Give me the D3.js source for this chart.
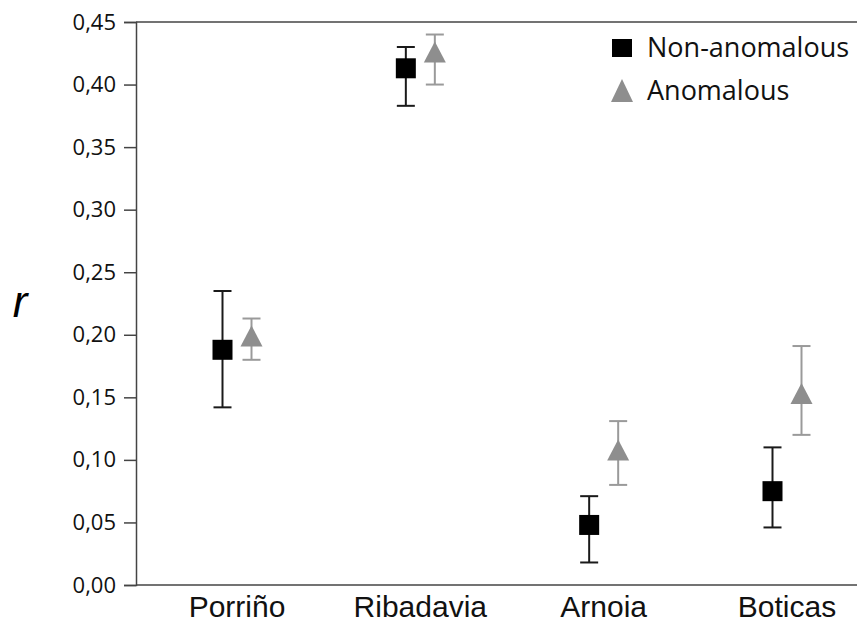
<!DOCTYPE html>
<html>
<head>
<meta charset="utf-8">
<script src="https://cdn.jsdelivr.net/npm/d3@7"></script>
<style>
body { margin: 0; background: #fff; }
</style>
</head>
<body>
<script>
var sites = ["Porriño", "Ribadavia", "Arnoia", "Boticas"];
var seriesNames = ["Non-anomalous", "Anomalous"];

// point estimate and interval ends
var nonAnomalous = [0.188, 0.413, 0.048, 0.075];
var nonAnomalousLow = [0.142, 0.383, 0.018, 0.046];
var nonAnomalousHigh = [0.235, 0.430, 0.071, 0.110];

var anomalous = [0.197, 0.424, 0.106, 0.151];
var anomalousLow = [0.180, 0.400, 0.080, 0.120];
var anomalousHigh = [0.213, 0.440, 0.131, 0.191];

var yTicks = [0, 0.05, 0.10, 0.15, 0.20, 0.25, 0.30, 0.35, 0.40, 0.45];

var width = 857, height = 626;
var plotLeft = 136, plotTop = 22, plotBottom = 585;

var svg = d3.select("body")
    .append("svg")
    .attr("width", width)
    .attr("height", height);

var y = d3.scaleLinear()
    .domain([0, 0.45])
    .range([plotBottom, plotTop]);

var x = d3.scalePoint()
    .domain(sites)
    .range([237, 787]);

var offset = d3.scalePoint()
    .domain(seriesNames)
    .range([-14.5, 14.5]);

var colors = { "Non-anomalous": "#000", "Anomalous": "#8e8e8e" };
var barColors = { "Non-anomalous": "#1a1a1a", "Anomalous": "#9a9a9a" };

var series = [
    { name: "Non-anomalous", mid: nonAnomalous, lo: nonAnomalousLow, hi: nonAnomalousHigh },
    { name: "Anomalous", mid: anomalous, lo: anomalousLow, hi: anomalousHigh }
];

// frame: top and bottom lines run off the right edge
svg.append("line")
    .attr("x1", plotLeft).attr("x2", width)
    .attr("y1", plotTop).attr("y2", plotTop)
    .attr("stroke", "#444").attr("stroke-width", 1.5);
svg.append("line")
    .attr("x1", plotLeft).attr("x2", width)
    .attr("y1", plotBottom).attr("y2", plotBottom)
    .attr("stroke", "#444").attr("stroke-width", 1.5);

var yAxis = svg.append("g")
    .attr("transform", "translate(" + plotLeft + ",0)")
    .call(d3.axisLeft(y)
        .tickValues(yTicks)
        .tickSize(12)
        .tickPadding(8)
        .tickFormat(function (d) { return d3.format(".2f")(d).replace(".", ","); }));

yAxis.select(".domain").attr("stroke", "#444").attr("stroke-width", 1.5);
yAxis.selectAll(".tick line").attr("stroke", "#444").attr("stroke-width", 1.5);
yAxis.selectAll(".tick text")
    .attr("fill", "#111")
    .style("font-family", "'Open Sans', sans-serif")
    .style("font-size", "22px");

// category labels
svg.append("g")
    .selectAll("text")
    .data(sites)
    .enter()
    .append("text")
    .attr("x", function (d) { return x(d); })
    .attr("y", 617)
    .attr("text-anchor", "middle")
    .attr("fill", "#111")
    .style("font-family", "'Liberation Sans', Arial, sans-serif")
    .style("font-size", "30px")
    .text(function (d) { return d; });

// axis title
svg.append("text")
    .attr("x", 20)
    .attr("y", 317)
    .attr("text-anchor", "middle")
    .style("font-family", "'Liberation Sans', Arial, sans-serif")
    .style("font-style", "italic")
    .style("font-size", "44px")
    .text("r");

var cap = 9;

series.forEach(function (s) {
    var g = svg.append("g");
    var cx = function (d, i) { return x(sites[i]) + offset(s.name); };

    g.selectAll("line.stem")
        .data(s.mid)
        .enter()
        .append("line")
        .attr("x1", cx).attr("x2", cx)
        .attr("y1", function (d, i) { return y(s.lo[i]); })
        .attr("y2", function (d, i) { return y(s.hi[i]); })
        .attr("stroke", barColors[s.name])
        .attr("stroke-width", 2);

    ["lo", "hi"].forEach(function (k) {
        g.selectAll("line.cap" + k)
            .data(s.mid)
            .enter()
            .append("line")
            .attr("x1", function (d, i) { return cx(d, i) - cap; })
            .attr("x2", function (d, i) { return cx(d, i) + cap; })
            .attr("y1", function (d, i) { return y(s[k][i]); })
            .attr("y2", function (d, i) { return y(s[k][i]); })
            .attr("stroke", barColors[s.name])
            .attr("stroke-width", 2);
    });

    if (s.name == "Non-anomalous") {
        g.selectAll("rect")
            .data(s.mid)
            .enter()
            .append("rect")
            .attr("x", function (d, i) { return cx(d, i) - 10; })
            .attr("y", function (d) { return y(d) - 10; })
            .attr("width", 20)
            .attr("height", 20)
            .attr("fill", colors[s.name]);
    } else {
        g.selectAll("path")
            .data(s.mid)
            .enter()
            .append("path")
            .attr("d", function (d, i) {
                var px = cx(d, i), py = y(d);
                return "M" + px + "," + (py - 13) + "L" + (px + 11) + "," + (py + 8) + "L" + (px - 11) + "," + (py + 8) + "Z";
            })
            .attr("fill", colors[s.name]);
    }
});

// legend
var legend = svg.append("g")
    .selectAll("g")
    .data(seriesNames)
    .enter()
    .append("g")
    .attr("transform", function (d, i) { return "translate(622," + (48 + i * 43) + ")"; });

legend.append("path")
    .attr("d", function (d) {
        if (d == "Non-anomalous") return "M-10,-9H10V9H-10Z";
        return "M0,-12L11,11L-11,11Z";
    })
    .attr("fill", function (d) { return colors[d]; });

legend.append("text")
    .attr("x", 25)
    .attr("y", 9)
    .attr("fill", "#111")
    .style("font-family", "'Open Sans', sans-serif")
    .style("font-size", "27px")
    .text(function (d) { return d; });
</script>
</body>
</html>
